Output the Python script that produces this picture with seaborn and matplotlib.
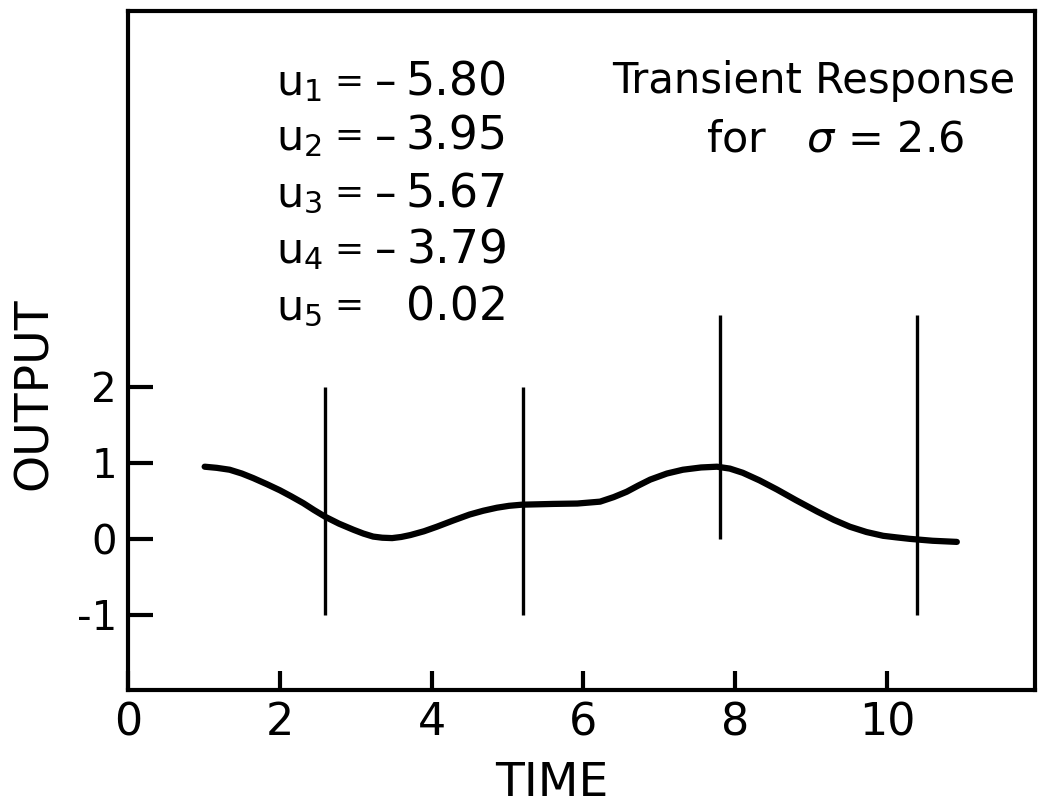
import matplotlib
matplotlib.use("Agg")
import matplotlib.pyplot as plt
import seaborn as sns
import pandas as pd

# ---- data ----
time = [1.01, 1.17, 1.34, 1.5, 1.65, 1.83, 2.0, 2.15, 2.31, 2.45, 2.6, 2.78, 2.97, 3.1, 3.23,
        3.35, 3.48, 3.6, 3.72, 3.9, 4.07, 4.28, 4.5, 4.68, 4.86, 5.02, 5.19, 5.4, 5.6, 5.92,
        6.22, 6.4, 6.57, 6.72, 6.88, 7.1, 7.31, 7.55, 7.76, 7.93, 8.1, 8.32, 8.55, 8.8, 9.08,
        9.3, 9.51, 9.73, 9.95, 10.12, 10.3, 10.6, 10.92]
output = [0.95, 0.935, 0.91, 0.86, 0.80, 0.72, 0.64, 0.56, 0.47, 0.38, 0.29, 0.20, 0.12, 0.07, 0.03,
          0.015, 0.01, 0.025, 0.05, 0.10, 0.16, 0.24, 0.32, 0.37, 0.41, 0.435, 0.45, 0.455, 0.46, 0.465,
          0.49, 0.55, 0.62, 0.70, 0.78, 0.86, 0.91, 0.94, 0.95, 0.925, 0.87, 0.77, 0.65, 0.51, 0.36,
          0.25, 0.16, 0.09, 0.04, 0.02, 0.0, -0.025, -0.04]

impulse_times = [2.6, 5.2, 7.8, 10.4]
impulse_bottom = [-1, -1, 0, -1]
impulse_top = [2, 2, 2.95, 2.95]

u_names = ["u$_1$", "u$_2$", "u$_3$", "u$_4$", "u$_5$"]
u_signs = ["–", "–", "–", "–", ""]
u_values = ["5.80", "3.95", "5.67", "3.79", "0.02"]

xticks = [0, 2, 4, 6, 8, 10]
xtick_labels = ["0", "2", "4", "6", "8", "10"]
yticks = [-1, 0, 1, 2]
ytick_labels = ["-1", "0", "1", "2"]

title1 = "Transient Response"
title2 = "for   $\\sigma$ = 2.6"

# ---- style ----
sns.set_style("white")
plt.rcParams["font.family"] = ["DejaVu Sans"]
plt.rcParams["mathtext.fontset"] = "dejavusans"
plt.rcParams["text.color"] = "black"
plt.rcParams["axes.labelcolor"] = "black"
plt.rcParams["xtick.color"] = "black"
plt.rcParams["ytick.color"] = "black"

fig = plt.figure(figsize=(10.39, 8.06), dpi=100)
W, H = 1039, 806
L, R, B, T = 128, 1035, 690, 11
ax = fig.add_axes([L / W, 1 - B / H, (R - L) / W, (B - T) / H])

df = pd.DataFrame({"TIME": time, "OUTPUT": output})
sns.lineplot(data=df, x="TIME", y="OUTPUT", ax=ax, color="black", linewidth=4.5, sort=False)
for ln in ax.get_lines():
    ln.set_solid_joinstyle("round")
    ln.set_solid_capstyle("round")
ax.vlines(impulse_times, impulse_bottom, impulse_top, color="black", linewidth=2.4)

ax.set_xlim(0, 11.95)
ax.set_ylim(-1.99, 6.95)

for s in ax.spines.values():
    s.set_linewidth(3.0)
    s.set_color("black")
    s.set_visible(True)

ax.set_xticks(xticks)
ax.set_xticklabels(xtick_labels)
ax.set_yticks(yticks)
ax.set_yticklabels(ytick_labels)
ax.tick_params(axis="x", bottom=True, direction="in", length=14, width=3, pad=8,
               labelsize=32, labelcolor="black", color="black")
ax.tick_params(axis="y", left=True, direction="in", length=18, width=3, pad=8,
               labelsize=29, labelcolor="black", color="black")

ax.set_xlabel("TIME", fontsize=34, color="black")
ax.set_ylabel("OUTPUT", fontsize=34, color="black")
ax.xaxis.set_label_coords((552 - L) / (R - L), (B - 806) / (B - T))
ax.yaxis.set_label_coords((12 - L) / (R - L), (B - 394) / (B - T))
ax.xaxis.label.set_va("bottom")
ax.yaxis.label.set_va("top")


def ax_x(px):
    return (px - L) / (R - L)


def ax_y(py):
    return (B - py) / (B - T)


baselines = [95, 150, 207, 263, 320]
for name, sign, val, bl in zip(u_names, u_signs, u_values, baselines):
    yy = ax_y(bl)
    ax.text(ax_x(276), yy, name, transform=ax.transAxes, fontsize=31, ha="left", va="baseline")
    ax.text(ax_x(349), ax_y(bl - 17), "=", transform=ax.transAxes, fontsize=25,
            ha="center", va="center_baseline")
    if sign:
        ax.text(ax_x(386), yy, sign, transform=ax.transAxes, fontsize=31, ha="center", va="baseline")
    ax.text(ax_x(508), yy, val, transform=ax.transAxes, fontsize=33, ha="right", va="baseline")

ax.text(ax_x(814), ax_y(93), title1, transform=ax.transAxes, fontsize=30, ha="center", va="baseline")
ax.text(ax_x(835), ax_y(152), title2, transform=ax.transAxes, fontsize=31, ha="center", va="baseline")

fig.savefig("out.png", dpi=100, facecolor="white")
